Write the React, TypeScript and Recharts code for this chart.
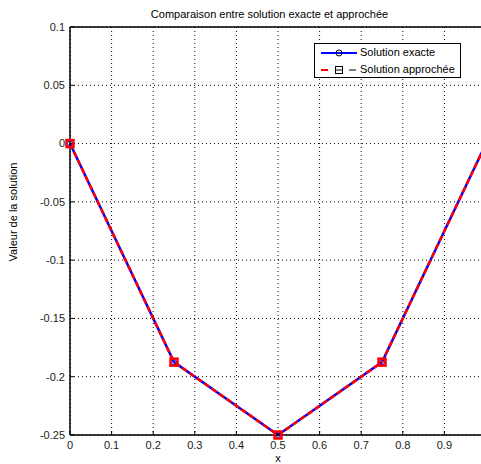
import React from "react";
import { LineChart, Line, XAxis, YAxis, CartesianGrid, ReferenceLine } from "recharts";

const xs = [0, 0.25, 0.5, 0.75, 1];
const exacte = [0, -0.1875, -0.25, -0.1875, 0];
const approchee = [0, -0.1875, -0.25, -0.1875, 0];
const xTicks = [0, 0.1, 0.2, 0.3, 0.4, 0.5, 0.6, 0.7, 0.8, 0.9];
const yTicks = [-0.25, -0.2, -0.15, -0.1, -0.05, 0, 0.05, 0.1];

const data = xs.map((x, i) => ({ x, exacte: exacte[i], approchee: approchee[i] }));

const font = "'Liberation Sans', Arial, sans-serif";

const SquareDot = (props: any) => {
  const { cx, cy } = props;
  if (cx == null || cy == null) return null;
  return <rect x={cx - 3.5} y={cy - 3.5} width={7} height={7} fill="none" stroke="#ff0000" strokeWidth={2.5} />;
};

function LegendBox() {
  return (
    <div
      style={{
        position: "absolute",
        left: 314,
        top: 43,
        width: 145,
        height: 33,
        border: "1px solid #000",
        background: "#fff",
        fontFamily: font,
        fontSize: 11,
      }}
    >
      <svg width={45} height={33} style={{ position: "absolute", left: 0, top: 0 }}>
        <line x1={6} y1={9} x2={42} y2={9} stroke="#0000ff" strokeWidth={2} />
        <circle cx={24} cy={9} r={3} fill="none" stroke="#000" strokeWidth={1} />
        <line x1={6} y1={26} x2={13} y2={26} stroke="#ff0000" strokeWidth={2} />
        <rect x={20.5} y={22.5} width={7} height={7} fill="none" stroke="#000" strokeWidth={1} />
        <line x1={20.5} y1={26} x2={27.5} y2={26} stroke="#000" strokeWidth={1} />
        <line x1={34} y1={26} x2={41} y2={26} stroke="#000" strokeWidth={1} />
      </svg>
      <div style={{ position: "absolute", left: 45, top: 2 }}>Solution exacte</div>
      <div style={{ position: "absolute", left: 45, top: 19 }}>Solution approchée</div>
    </div>
  );
}

export default function App() {
  return (
    <div
      style={{
        position: "absolute",
        left: 0,
        top: 0,
        width: 481,
        height: 464,
        overflow: "hidden",
        background: "#fff",
        fontFamily: font,
      }}
    >
      <LineChart width={500} height={464} data={data} margin={{ top: 27, right: 14, left: 0, bottom: 0 }}>
        <CartesianGrid stroke="#000" strokeDasharray="1 3" />
        <XAxis
          dataKey="x"
          type="number"
          domain={[0, 1]}
          ticks={xTicks}
          height={29}
          tickSize={-4}
          tickMargin={10}
          axisLine={{ stroke: "#000", strokeWidth: 1.5 }}
          tickLine={{ stroke: "#000" }}
          tick={{ fontSize: 11, fill: "#222", fontFamily: font }}
          interval={0}
        />
        <YAxis
          type="number"
          domain={[-0.25, 0.1]}
          ticks={yTicks}
          width={70}
          tickSize={-4}
          tickMargin={9}
          axisLine={{ stroke: "#000", strokeWidth: 1.5 }}
          tickLine={{ stroke: "#000" }}
          tick={{ fontSize: 11, fill: "#222", fontFamily: font }}
          interval={0}
        />
        <ReferenceLine y={0.1} stroke="#000" strokeWidth={1.5} />
        <Line
          dataKey="exacte"
          stroke="#0000ff"
          strokeWidth={2.5}
          dot={{ r: 2.5, fill: "none", stroke: "#0000ff", strokeWidth: 1 }}
          isAnimationActive={false}
        />
        <Line
          dataKey="approchee"
          stroke="#ff0000"
          strokeWidth={2.5}
          strokeDasharray="6 3"
          dot={<SquareDot />}
          isAnimationActive={false}
        />
      </LineChart>
      <div
        style={{
          position: "absolute",
          left: 269.5,
          top: 8,
          transform: "translateX(-50%)",
          whiteSpace: "nowrap",
          fontSize: 11,
        }}
      >
        Comparaison entre solution exacte et approchée
      </div>
      <div
        style={{
          position: "absolute",
          left: 13,
          top: 212,
          transform: "translate(-50%, -50%) rotate(-90deg)",
          whiteSpace: "nowrap",
          fontSize: 11,
        }}
      >
        Valeur de la solution
      </div>
      <div style={{ position: "absolute", left: 278, top: 452, transform: "translateX(-50%)", fontSize: 11 }}>x</div>
      <LegendBox />
    </div>
  );
}
